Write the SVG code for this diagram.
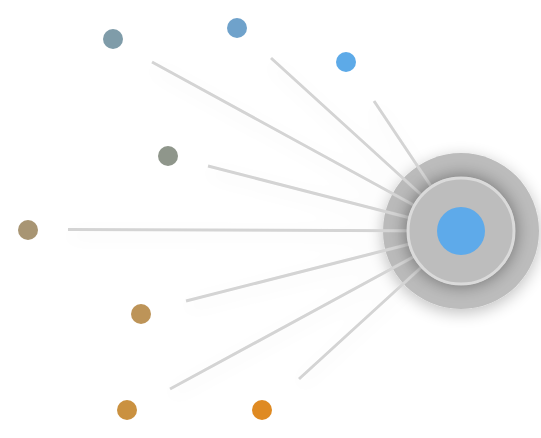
<svg xmlns="http://www.w3.org/2000/svg" width="541" height="438" viewBox="0 0 541 438">
<style>
.link{stroke:#d4d4d4;stroke-width:3;stroke-linecap:butt;fill:none}
.leaf{stroke:none}
</style>
<defs>
<filter id="soft" x="-50%" y="-50%" width="200%" height="200%">
<feGaussianBlur in="SourceAlpha" stdDeviation="10"/>
<feOffset dx="0" dy="6" result="b"/>
<feComponentTransfer><feFuncA type="linear" slope="0.08"/></feComponentTransfer>
<feMerge><feMergeNode/><feMergeNode in="SourceGraphic"/></feMerge>
</filter>
<filter id="hubShadow" x="-30%" y="-30%" width="160%" height="160%">
<feGaussianBlur in="SourceAlpha" stdDeviation="8"/>
<feOffset dx="0" dy="4"/>
<feComponentTransfer><feFuncA type="linear" slope="0.25"/></feComponentTransfer>
<feMerge><feMergeNode/><feMergeNode in="SourceGraphic"/></feMerge>
</filter>
<filter id="innerShadow" x="-40%" y="-40%" width="180%" height="180%">
<feGaussianBlur in="SourceAlpha" stdDeviation="9"/>
<feComponentTransfer><feFuncA type="linear" slope="0.45"/></feComponentTransfer>
<feMerge><feMergeNode/><feMergeNode in="SourceGraphic"/></feMerge>
</filter>
<clipPath id="outerClip"><circle cx="461" cy="231" r="78"/></clipPath>
</defs>
<g id="hub-outer">
<circle cx="461" cy="231" r="78" fill="#bcbcbc" filter="url(#hubShadow)"/>
</g>
<g id="connectors" filter="url(#soft)">
<line class="link" x1="152" y1="62" x2="461" y2="231"/>
<line class="link" x1="271" y1="58" x2="461" y2="231"/>
<line class="link" x1="374" y1="101" x2="461" y2="231"/>
<line class="link" x1="208" y1="166" x2="461" y2="231"/>
<line class="link" x1="68" y1="229.5" x2="461" y2="231"/>
<line class="link" x1="186" y1="301" x2="461" y2="231"/>
<line class="link" x1="170" y1="389" x2="461" y2="231"/>
<line class="link" x1="299" y1="379" x2="461" y2="231"/>
</g>
<g id="hub">
<g clip-path="url(#outerClip)">
<circle cx="461" cy="231" r="54" fill="#bdbdbd" filter="url(#innerShadow)"/>
</g>
<circle cx="461" cy="231" r="53" fill="#bdbdbd" stroke="#dadada" stroke-width="3"/>
<circle cx="461" cy="231" r="24" fill="#5eaaea"/>
</g>
<g id="n1"><circle class="leaf" cx="113" cy="39" r="10" fill="#7f9ca9"/></g>
<g id="n2"><circle class="leaf" cx="237" cy="28" r="10" fill="#6fa2cb"/></g>
<g id="n3"><circle class="leaf" cx="346" cy="62" r="10" fill="#5daae8"/></g>
<g id="n4"><circle class="leaf" cx="168" cy="156" r="10" fill="#8f968b"/></g>
<g id="n5"><circle class="leaf" cx="28" cy="230" r="10" fill="#a89573"/></g>
<g id="n6"><circle class="leaf" cx="141" cy="314" r="10" fill="#bd9458"/></g>
<g id="n7"><circle class="leaf" cx="127" cy="410" r="10" fill="#ca9140"/></g>
<g id="n8"><circle class="leaf" cx="262" cy="410" r="10" fill="#df8a22"/></g>
</svg>
